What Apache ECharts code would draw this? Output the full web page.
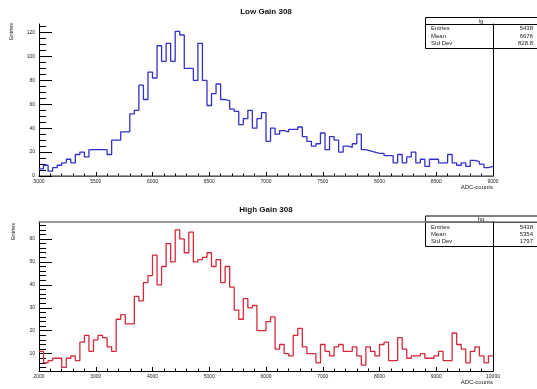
<!DOCTYPE html>
<html><head><meta charset="utf-8">
<script src="https://cdn.jsdelivr.net/npm/echarts@6/dist/echarts.min.js"></script>
<style>html,body{margin:0;padding:0;background:#fff}#c{width:537px;height:389px}</style>
</head><body><div id="c"></div>
<script>
// ---- data ----
const lgTitle = 'Low Gain 308';
const hgTitle = 'High Gain 308';
const lgBinStart = 5000, lgBinWidth = 40;
const lgCounts = [6,9,4,7,9,11,14,11,18,20, 16,22,22,22,22,18,30,30,37,37,
  52,55,76,64,87,82,109,96,111,96, 121,118,90,90,80,111,80,59,69,77,
  64,63,56,54,43,48,55,40,48,53, 29,40,35,38,37,39,39,41,33,29,
  25,27,36,22,33,30,20,25,24,27, 35,22,21,20,19,19,17,17,11,18,
  11,16,20,11,14,8,14,14,11,11, 18,11,9,11,8,13,12,10,7,8];
const hgBinStart = 2000, hgBinWidth = 80;
const hgCounts = [11,6,7,8,8,4,8,9,7,15, 18,11,16,18,17,13,11,25,27,23,
  23,35,33,41,44,53,40,48,58,50, 64,60,54,63,50,51,52,54,48,51,
  41,48,39,29,25,34,30,31,20,20, 24,26,12,14,10,9,18,21,13,10,
  10,6,14,11,9,13,14,11,11,13, 9,5,13,11,9,14,15,7,7,17,
  12,8,9,9,10,8,8,9,11,7, 7,19,14,12,6,11,13,9,6,9];
const lgXTicks = [5000,5500,6000,6500,7000,7500,8000,8500,9000];
const lgYTicks = [0,20,40,60,80,100,120];
const hgXTicks = [2000,3000,4000,5000,6000,7000,8000,9000,10000];
const hgYTicks = [10,20,30,40,50,60];
const statLabels = ['Entries','Mean','Std Dev'];
const lgStatName = 'lg';
const lgStatValues = ['5438','6676','828.8'];
const hgStatName = 'hg';
const hgStatValues = ['5438','5354','1797'];
const xTitle = 'ADC-counts';
const yTitle = 'Entries';

// ---- chart ----
const FONT = "'Liberation Sans', Arial, Helvetica, sans-serif";
function histPoints(start, width, counts){
  const pts = counts.map((v,i)=>[start + i*width, v]);
  pts.push([start + counts.length*width, counts[counts.length-1]]);
  return pts;
}
function range(a, b, step){ const r=[]; for(let v=a; v<=b+1e-9; v+=step) r.push(+v.toFixed(6)); return r; }
const plain = v => String(v);

function xAxes(gi, min, max, majors, minorStep){
  return [
    {gridIndex:gi, type:'value', min, max, position:'bottom',
     axisLine:{lineStyle:{color:'#000', width:1}},
     axisTick:{inside:true, length:4, customValues:majors, lineStyle:{color:'#000'}},
     axisLabel:{customValues:majors, formatter:plain, fontSize:5, color:'#222', margin:3, fontFamily:FONT},
     splitLine:{show:false},
     name:xTitle, nameLocation:'end', nameGap:0,
     nameTextStyle:{fontSize:6, align:'right', verticalAlign:'top', padding:[8,0,0,0], fontFamily:FONT, color:'#222'}},
    {gridIndex:gi, type:'value', min, max, position:'bottom', axisLine:{show:false},
     axisTick:{inside:true, length:2.5, customValues:range(min,max,minorStep), lineStyle:{color:'#000'}},
     axisLabel:{show:false}, splitLine:{show:false}},
    {gridIndex:gi, type:'value', min, max, position:'top',
     axisLine:{lineStyle:{color:'#777', width:1.5}}, axisTick:{show:false}, axisLabel:{show:false}, splitLine:{show:false}}
  ];
}
function yAxes(gi, min, max, majors, minors){
  return [
    {gridIndex:gi, type:'value', min, max, position:'left',
     axisLine:{show:true, lineStyle:{color:'#000', width:1}},
     axisTick:{show:true, inside:true, length:13, customValues:majors, lineStyle:{color:'#000'}},
     axisLabel:{customValues:majors, formatter:plain, fontSize:5, color:'#222', margin:4, fontFamily:FONT},
     splitLine:{show:false}},
    {gridIndex:gi, type:'value', min, max, position:'left', axisLine:{show:false},
     axisTick:{show:true, inside:true, length:7, customValues:minors, lineStyle:{color:'#000'}},
     axisLabel:{show:false}, splitLine:{show:false}},
    {gridIndex:gi, type:'value', min, max, position:'right',
     axisLine:{show:true, lineStyle:{color:'#000', width:1}}, axisTick:{show:false}, axisLabel:{show:false}, splitLine:{show:false}}
  ];
}
function statBox(top, headerH, h, name, values){
  const children = [
    {type:'rect', shape:{x:425.5, y:top+0.5, width:130, height:h}, style:{fill:'#fff', stroke:'#000', lineWidth:1}},
    {type:'line', shape:{x1:425.5, y1:top+headerH+0.5, x2:537, y2:top+headerH+0.5}, style:{stroke:'#000', lineWidth:1}},
    {type:'text', x:481, y:top+headerH/2+0.5, style:{text:name, fontSize:6, fontFamily:FONT, fill:'#222', align:'center', verticalAlign:'middle'}}
  ];
  statLabels.forEach((lab,i)=>{
    const yy = top + 11.5 + i*7.4;
    children.push({type:'text', x:431, y:yy, style:{text:lab, fontSize:6, fontFamily:FONT, fill:'#222', align:'left', verticalAlign:'middle'}});
    children.push({type:'text', x:533, y:yy, style:{text:values[i], fontSize:6, fontFamily:FONT, fill:'#222', align:'right', verticalAlign:'middle'}});
  });
  return {type:'group', z:100, children};
}

const chart = echarts.init(document.getElementById('c'), null, {renderer:'canvas'});
chart.setOption({
  animation:false,
  backgroundColor:'#fff',
  title:[
    {text:lgTitle, left:266, top:7.5, textAlign:'center', padding:0, textStyle:{fontSize:8, fontWeight:'bold', color:'#111', fontFamily:FONT}},
    {text:hgTitle, left:266, top:206, textAlign:'center', padding:0, textStyle:{fontSize:8, fontWeight:'bold', color:'#111', fontFamily:FONT}}
  ],
  grid:[
    {left:39, right:44, top:24, height:152, outerBoundsMode:'none', containLabel:false},
    {left:39, right:44, top:222, height:149, outerBoundsMode:'none', containLabel:false}
  ],
  xAxis: xAxes(0, 5000, 9000, lgXTicks, 100).concat(xAxes(1, 2000, 10000, hgXTicks, 200)),
  yAxis: yAxes(0, 0, 127.2, lgYTicks, range(0,125,5)).concat(yAxes(1, 2.44, 67.4, hgYTicks, range(4,66,2))),
  series:[
    {type:'line', name:'lg', xAxisIndex:0, yAxisIndex:0, step:'end', symbol:'none',
     lineStyle:{color:'#3232c8', width:1.3}, data:histPoints(lgBinStart, lgBinWidth, lgCounts)},
    {type:'line', name:'hg', xAxisIndex:3, yAxisIndex:3, step:'end', symbol:'none',
     lineStyle:{color:'#d42a3c', width:1.3}, data:histPoints(hgBinStart, hgBinWidth, hgCounts)}
  ],
  graphic:[
    statBox(17, 7, 31, lgStatName, lgStatValues),
    statBox(215.5, 6.2, 30.5, hgStatName, hgStatValues),
    {type:'text', x:11.5, y:23, rotation:Math.PI/2, z:100, style:{text:yTitle, fontSize:5.5, fontFamily:FONT, fill:'#222', align:'right', verticalAlign:'middle'}},
    {type:'text', x:13.3, y:223, rotation:Math.PI/2, z:100, style:{text:yTitle, fontSize:5.5, fontFamily:FONT, fill:'#222', align:'right', verticalAlign:'middle'}}
  ]
});
</script></body></html>
